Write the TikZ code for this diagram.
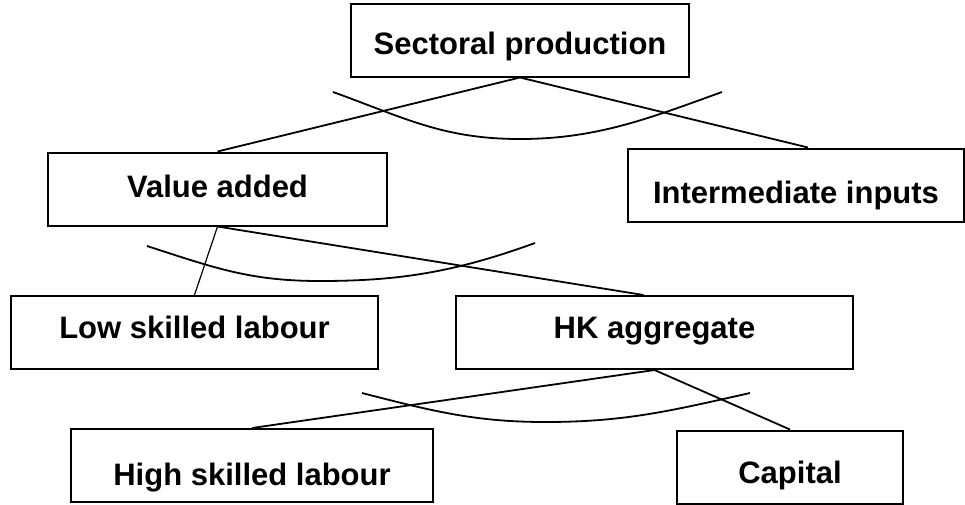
\documentclass[tikz,border=0pt]{standalone}
\usepackage{fontspec}
\setmainfont{Liberation Sans}
\usetikzlibrary{positioning,calc}
\begin{document}
\begin{tikzpicture}[x=1pt,y=-1pt,
 box/.style={draw,line width=2pt,minimum height=73pt,inner sep=0pt,text depth=0pt,
  font=\fontsize{31}{31}\selectfont\bfseries},
 link/.style={line width=1.8pt},
 nest/.style={line width=1.8pt}]
 \useasboundingbox (0,0) rectangle (965,504);
 \node[box,minimum width=338pt,text height=28pt] (sp) at (520,40) {Sectoral production};
 \node[box,minimum width=339pt,text height=16pt] (va) at (217.5,189) {Value added};
 \node[box,minimum width=336pt,text height=36pt] (ii) at (796,185) {Intermediate inputs};
 \node[box,minimum width=367pt,text height=12pt] (ls) at (194.5,332.5) {Low skilled labour};
 \node[box,minimum width=397pt,text height=12pt] (hk) at (654.5,332.5) {HK aggregate};
 \node[box,minimum width=362pt,text height=39pt] (hs) at (252,465.5) {High skilled labour};
 \node[box,minimum width=226pt,text height=32pt] (cap) at (790,467) {Capital};
 \draw[link] (sp.south) -- (va.north);
 \draw[link] (sp.south) -- ($(ii.north)+(12,0)$);
 \draw[link,line width=1.2pt] (va.south) -- (ls.north);
 \draw[link] (va.south) -- ($(hk.north)+(-11,0)$);
 \draw[link] (hk.south) -- (hs.north);
 \draw[link] (hk.south) -- (cap.north);
 \draw[nest] (333,92) .. controls (405,118) and (443,139) .. (520,139)
  .. controls (597,139) and (650,118) .. (722,92);
 \draw[nest] (147,246) .. controls (215,268) and (250,281) .. (320,281)
  .. controls (400,281) and (455,272) .. (535,243);
 \draw[nest] (362,393) .. controls (432,411) and (475,422) .. (545,422)
  .. controls (625,422) and (670,411) .. (750,393);
\end{tikzpicture}
\end{document}
